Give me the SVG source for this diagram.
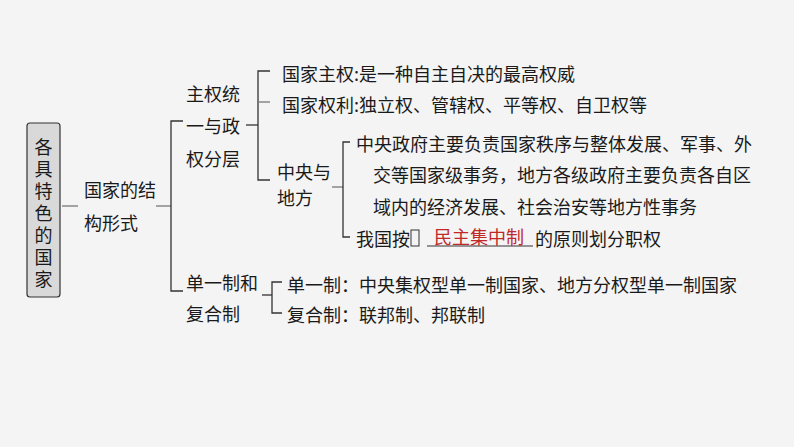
<svg xmlns="http://www.w3.org/2000/svg" width="794" height="447" viewBox="0 0 794 447">
<style>
text{font-family:"Noto Sans CJK SC","Noto Sans",sans-serif;font-size:18px;fill:#1a1a1a;dominant-baseline:central}
.r{font-size:18px;text-anchor:middle}
.c{stroke:#333;stroke-width:1.3;fill:none}
.g{stroke:#777;stroke-width:1.3;fill:none}
</style>
<rect width="794" height="447" fill="#f4f4f4"/>
<g id="connectors">
<path class="g" d="M62 206H78"/>
<path class="g" d="M156 206H171"/>
<path class="c" d="M183 121H171V291H183"/>
<path class="c" d="M246 125H258"/>
<path class="c" d="M270 71H258V180H270"/>
<path class="g" d="M258 102H270"/>
<path class="g" d="M332 187H343"/>
<path class="c" d="M350 142H343V237H350"/>
<path class="c" d="M262 295H272"/>
<path class="c" d="M282 282H272V313H282"/>
</g>
<g id="root">
<rect x="27" y="123" width="33" height="174" rx="3" fill="#d9d9d9" stroke="#333" stroke-width="1.2"/>
<text class="r" x="43.5" y="146">各</text>
<text class="r" x="43.5" y="168">具</text>
<text class="r" x="43.5" y="190">特</text>
<text class="r" x="43.5" y="212">色</text>
<text class="r" x="43.5" y="234">的</text>
<text class="r" x="43.5" y="256">国</text>
<text class="r" x="43.5" y="278">家</text>
</g>
<g id="n-struct"><text x="84" y="189">国家的结</text><text x="84" y="222">构形式</text></g>
<g id="n-sovereign"><text x="186" y="93">主权统</text><text x="186" y="125">一与政</text><text x="186" y="158">权分层</text></g>
<g id="n-s1"><text x="282" y="73">国家主权:是一种自主自决的最高权威</text></g>
<g id="n-s2"><text x="282" y="104">国家权利:独立权、管辖权、平等权、自卫权等</text></g>
<g id="n-cl"><text x="277" y="171">中央与</text><text x="277" y="197">地方</text></g>
<g id="n-cl1"><text x="356" y="143">中央政府主要负责国家秩序与整体发展、军事、外</text><text x="373" y="174">交等国家级事务，地方各级政府主要负责各自区</text><text x="373" y="206">域内的经济发展、社会治安等地方性事务</text></g>
<g id="n-cl2"><text x="356" y="238">我国按</text><rect x="411" y="230" width="8" height="16" fill="none" stroke="#333" stroke-width="1"/><path d="M427 246H533" stroke="#333" stroke-width="1.2"/><text x="434" y="236" style="fill:#c0282a">民主集中制</text><text x="535" y="238">的原则划分职权</text></g>
<g id="n-unit"><text x="186" y="282">单一制和</text><text x="186" y="313">复合制</text></g>
<g id="n-u1"><text x="287" y="284">单一制：中央集权型单一制国家、地方分权型单一制国家</text></g>
<g id="n-u2"><text x="287" y="314">复合制：联邦制、邦联制</text></g>
</svg>
